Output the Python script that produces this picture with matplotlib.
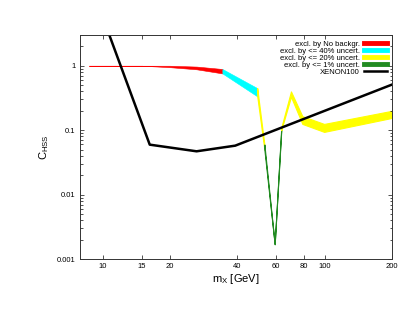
import matplotlib
matplotlib.use("Agg")
import matplotlib.pyplot as plt
from matplotlib.lines import Line2D

plt.rcParams['font.family'] = ['Liberation Sans', 'DejaVu Sans']
plt.rcParams['mathtext.fontset'] = 'custom'
plt.rcParams['mathtext.rm'] = 'Liberation Sans'

# exclusion bands (lower / upper edge of each coloured piece)
red_x = [8.65, 15, 20, 26.4, 34.5]
red_hi = [1.0, 1.0, 1.0, 0.97, 0.89]
red_lo = [1.0, 1.0, 0.95, 0.88, 0.76]

cyan_x = [34.5, 49.5]
cyan_hi = [0.89, 0.45]
cyan_lo = [0.76, 0.335]

yel1_x = [49.5, 53.3]
yel1_hi = [0.45, 0.06]
yel1_lo = [0.335, 0.05]

green_x = [53.3, 59.3, 63.5]
green_hi = [0.06, 0.0017, 0.11]
green_lo = [0.05, 0.0017, 0.10]

yel2_x = [63.5, 70.2, 79, 99, 200]
yel2_hi = [0.11, 0.40, 0.165, 0.125, 0.20]
yel2_lo = [0.10, 0.33, 0.125, 0.094, 0.155]

xenon_x = [10, 16.25, 26.4, 39.4, 200]
xenon_y = [5.6, 0.0596, 0.047, 0.0575, 0.51]

xticks = [10, 15, 20, 40, 60, 80, 100, 200]
yticks = [0.001, 0.01, 0.1, 1]
ytick_labels = ['0.001', '0.01', '0.1', '1']

RED = '#ff0000'
CYAN = '#00ffff'
YELLOW = '#ffff00'
GREEN = '#228b22'

fig = plt.figure(figsize=(4.15, 3.21), dpi=100)
ax = fig.add_axes([0.1916, 0.193, 0.753, 0.698])

ax.fill_between(red_x, red_lo, red_hi, color=RED, lw=0.4)
ax.fill_between(cyan_x, cyan_lo, cyan_hi, color=CYAN, lw=0.4)
ax.fill_between(yel1_x, yel1_lo, yel1_hi, color=YELLOW, lw=0.8)
ax.fill_between(green_x, green_lo, green_hi, color=GREEN, lw=0.8)
ax.fill_between(yel2_x, yel2_lo, yel2_hi, color=YELLOW, lw=0.8)
ax.plot(xenon_x, xenon_y, color='black', lw=1.8)

ax.set_xscale('log')
ax.set_yscale('log')
ax.set_xlim(7.85, 200)
ax.set_ylim(0.001, 3.0)

ax.set_xticks(xticks)
ax.set_xticklabels([str(t) for t in xticks])
ax.xaxis.set_minor_locator(matplotlib.ticker.NullLocator())
ax.set_yticks(yticks)
ax.set_yticklabels(ytick_labels)
ax.yaxis.set_minor_locator(matplotlib.ticker.LogLocator(base=10, subs=range(2, 10)))
ax.yaxis.set_minor_formatter(matplotlib.ticker.NullFormatter())

ax.tick_params(which='both', direction='in', top=True, right=True,
               labelsize=5.5, width=0.6, color='#333333')
ax.tick_params(which='major', length=3, pad=3)
ax.tick_params(which='minor', length=1.8)
for s in ax.spines.values():
    s.set_linewidth(0.7)
    s.set_color('#333333')

ax.set_xlabel(r'm$_{\mathrm{X}}$ [GeV]', fontsize=8, labelpad=1)
ax.set_ylabel(r'C$_{\mathrm{HSS}}$', fontsize=8, labelpad=4)

handles = [
    Line2D([], [], color=RED, lw=3.5),
    Line2D([], [], color=CYAN, lw=3.5),
    Line2D([], [], color=YELLOW, lw=3.5),
    Line2D([], [], color=GREEN, lw=3.5),
    Line2D([], [], color='black', lw=1.8),
]
labels = ['excl. by No backgr.', 'excl. by <= 40% uncert.',
          'excl. by <= 20% uncert.', 'excl. by <= 1% uncert.', 'XENON100']
ax.legend(handles, labels, loc='upper right', frameon=False, markerfirst=False,
          fontsize=5.5, handlelength=3.0, handletextpad=0.5, labelspacing=-0.05,
          borderaxespad=0.4, borderpad=0.3)

fig.savefig('out.png', dpi=100)
